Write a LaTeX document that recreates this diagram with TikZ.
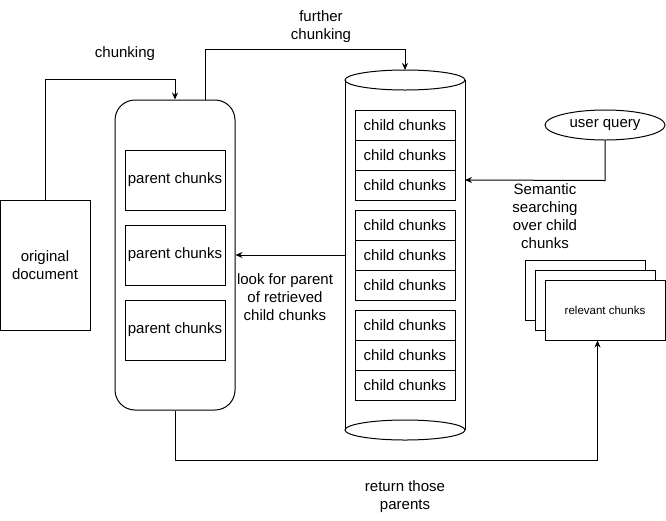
\documentclass[tikz,border=0pt]{standalone}
\usepackage{fontspec}
\setmainfont{Liberation Sans}
\usetikzlibrary{arrows.meta,shapes.geometric}

\tikzset{
  pbox/.style={draw, minimum width=100pt, minimum height=60pt, inner sep=0pt},
  childbox/.style={draw, minimum width=100pt, minimum height=30pt, inner sep=0pt},
  stackbox/.style={draw, fill=white, minimum width=120pt, minimum height=60pt, inner sep=0pt},
  lbl/.style={align=center},
  conn/.style={-{Stealth[length=7pt,width=6pt]}}
}

\begin{document}
\begin{tikzpicture}[x=1pt,y=-1pt,line width=1pt,font=\fontsize{15}{18}\selectfont]
		\useasboundingbox (0,0) rectangle (666,520);
		% source and parent level
		\node[draw, minimum width=90pt, minimum height=130pt, align=center] (doc) at (45,265) {original\\document};
		\node[draw, rounded corners=20pt, minimum width=120pt, minimum height=310pt] (parent) at (175,255) {};
		\node[pbox] (p1) at (175,180) {parent chunks};
		\node[pbox] (p2) at (175,255) {parent chunks};
		\node[pbox] (p3) at (175,330) {parent chunks};
		% child store
		\node[minimum width=120pt, minimum height=350pt, inner sep=0pt] (cyl) at (405,255) {};
		\draw[fill=white] (405,80) ellipse [x radius=60pt, y radius=10pt];
		\draw (345,80) -- (345,430);
		\draw (465,80) -- (465,430);
		\draw (405,430) ellipse [x radius=60pt, y radius=10pt];
		\coordinate (cyltop) at (405,70);
		\coordinate (cylin) at (465,180);
		\foreach \y [count=\i] in {125,155,185,225,255,285,325,355,385}
			\node[childbox] (c\i) at (405,\y) {child chunks};
		% query and results
		\node[draw, ellipse, minimum width=120pt, minimum height=30pt, inner sep=0pt] (query) at (605,125) {user query};
		\node[stackbox] (r1) at (585,290) {};
		\node[stackbox] (r2) at (595,300) {};
		\node[stackbox, font=\fontsize{11.5}{13}\selectfont] (rel) at (605,310) {relevant chunks};
		% connectors
		\draw[conn] (doc.north) -- ++(0,-120) -| (parent.north);
		\draw[conn] ([xshift=30pt]parent.north) -- ++(0,-50) -| (cyltop);
		\draw[conn] (query.south) -- ++(0,40) -- (cylin);
		\draw[conn] (cyl.west) -- (parent.east);
		\draw[conn] (parent.south) -- ++(0,50) -| ([xshift=-7.5pt]rel.south);
		% labels
		\node[lbl] (lchunk) at (125,54) {chunking};
		\node[lbl] (lfurther) at (321,27) {further\\chunking};
		\node[lbl] (lsearch) at (545,216) {Semantic\\searching\\over child\\chunks};
		\node[lbl] (llook) at (285,297) {look for parent\\of retrieved\\child chunks};
		\node[lbl] (lreturn) at (405,497) {return those\\parents};
\end{tikzpicture}
\end{document}
